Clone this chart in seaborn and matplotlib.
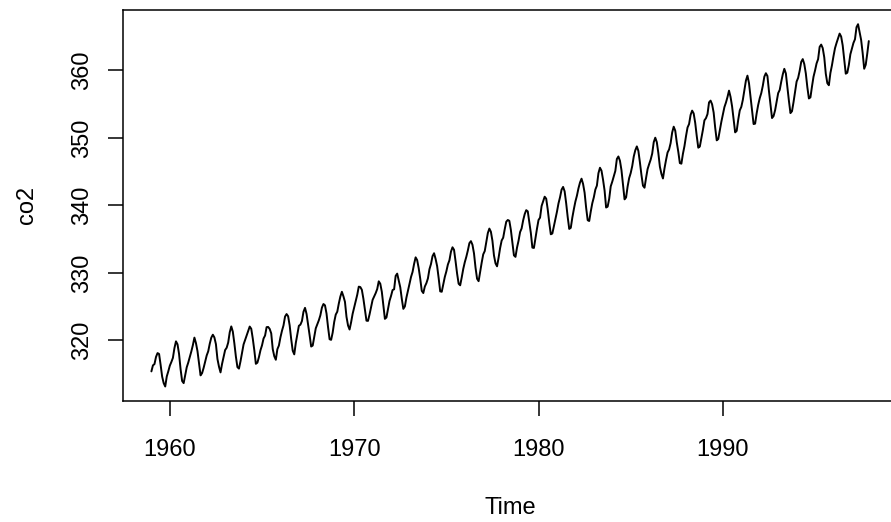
import numpy as np
import pandas as pd
import seaborn as sns
import matplotlib
matplotlib.use("Agg")
import matplotlib.pyplot as plt

# Monthly Mauna Loa CO2 (ppm), Jan 1959 - Dec 1997
start_year = 1959
co2_values = [
    315.42, 316.31, 316.50, 317.56, 318.13, 318.00, 316.39, 314.65, 313.68, 313.18, 314.66, 315.43,
    316.27, 316.81, 317.42, 318.87, 319.87, 319.43, 318.01, 315.74, 314.00, 313.68, 314.84, 316.03,
    316.73, 317.54, 318.38, 319.31, 320.42, 319.61, 318.42, 316.63, 314.83, 315.16, 315.94, 316.85,
    317.78, 318.40, 319.53, 320.42, 320.85, 320.45, 319.45, 317.25, 316.11, 315.27, 316.53, 317.53,
    318.58, 318.92, 319.70, 321.22, 322.08, 321.31, 319.58, 317.61, 316.05, 315.83, 316.91, 318.20,
    319.41, 320.07, 320.74, 321.40, 322.06, 321.73, 320.27, 318.54, 316.54, 316.71, 317.53, 318.55,
    319.27, 320.28, 320.73, 321.97, 322.00, 321.71, 321.05, 318.71, 317.66, 317.14, 318.70, 319.25,
    320.46, 321.43, 322.23, 323.54, 323.91, 323.59, 322.24, 320.20, 318.48, 317.94, 319.63, 320.87,
    322.17, 322.34, 322.88, 324.25, 324.83, 323.93, 322.38, 320.76, 319.10, 319.24, 320.56, 321.80,
    322.40, 322.99, 323.73, 324.86, 325.40, 325.20, 323.98, 321.95, 320.18, 320.09, 321.16, 322.74,
    323.83, 324.26, 325.47, 326.50, 327.21, 326.54, 325.72, 323.50, 322.22, 321.62, 322.69, 323.95,
    324.89, 325.82, 326.77, 327.97, 327.91, 327.50, 326.18, 324.53, 322.93, 322.90, 323.85, 324.96,
    326.01, 326.51, 327.01, 327.62, 328.76, 328.40, 327.20, 325.27, 323.20, 323.40, 324.63, 325.85,
    326.60, 327.47, 327.58, 329.56, 329.90, 328.92, 327.88, 326.16, 324.68, 325.04, 326.34, 327.39,
    328.37, 329.40, 330.14, 331.33, 332.31, 331.90, 330.70, 329.15, 327.35, 327.02, 327.99, 328.48,
    329.18, 330.55, 331.32, 332.48, 332.92, 332.08, 331.01, 329.23, 327.27, 327.21, 328.29, 329.41,
    330.23, 331.25, 331.87, 333.14, 333.80, 333.43, 331.73, 329.90, 328.40, 328.17, 329.32, 330.59,
    331.58, 332.39, 333.33, 334.41, 334.71, 334.17, 332.89, 330.77, 329.14, 328.78, 330.14, 331.52,
    332.75, 333.24, 334.53, 335.90, 336.57, 336.10, 334.76, 332.59, 331.42, 330.98, 332.24, 333.68,
    334.80, 335.22, 336.47, 337.59, 337.84, 337.72, 336.37, 334.51, 332.60, 332.38, 333.75, 334.78,
    336.05, 336.59, 337.79, 338.71, 339.30, 339.12, 337.56, 335.92, 333.75, 333.70, 335.12, 336.56,
    337.84, 338.19, 339.91, 340.60, 341.29, 341.00, 339.39, 337.43, 335.72, 335.84, 336.93, 338.04,
    339.06, 340.30, 341.21, 342.33, 342.74, 342.08, 340.32, 338.26, 336.52, 336.68, 338.19, 339.44,
    340.57, 341.44, 342.53, 343.39, 343.96, 343.18, 341.88, 339.65, 337.81, 337.69, 339.09, 340.32,
    341.20, 342.35, 342.93, 344.77, 345.58, 345.14, 343.81, 342.21, 339.69, 339.82, 340.98, 342.82,
    343.52, 344.33, 345.11, 346.88, 347.25, 346.62, 345.22, 343.11, 340.90, 341.18, 342.80, 344.04,
    344.79, 345.82, 347.25, 348.17, 348.74, 348.07, 346.38, 344.51, 342.92, 342.62, 344.06, 345.38,
    346.11, 346.78, 347.68, 349.37, 350.03, 349.37, 347.76, 345.73, 344.68, 343.99, 345.48, 346.72,
    347.84, 348.29, 349.23, 350.80, 351.66, 351.07, 349.33, 347.92, 346.27, 346.18, 347.64, 348.78,
    350.25, 351.54, 352.05, 353.41, 354.04, 353.62, 352.22, 350.27, 348.55, 348.72, 349.91, 351.18,
    352.60, 352.92, 353.53, 355.26, 355.52, 354.97, 353.75, 351.52, 349.64, 349.83, 351.14, 352.37,
    353.50, 354.55, 355.23, 356.04, 357.00, 356.07, 354.67, 352.76, 350.82, 351.04, 352.69, 354.07,
    354.59, 355.63, 357.03, 358.48, 359.22, 358.12, 356.06, 353.92, 352.05, 352.11, 353.64, 354.89,
    355.88, 356.63, 357.72, 359.07, 359.58, 359.17, 356.94, 354.92, 352.94, 353.23, 354.09, 355.33,
    356.63, 357.10, 358.32, 359.41, 360.23, 359.55, 357.53, 355.48, 353.67, 353.95, 355.30, 356.78,
    358.34, 358.89, 359.95, 361.25, 361.67, 360.94, 359.55, 357.49, 355.84, 356.00, 357.59, 359.05,
    359.98, 361.03, 361.66, 363.48, 363.82, 363.30, 361.94, 359.50, 358.11, 357.80, 359.61, 360.74,
    362.09, 363.29, 364.06, 364.76, 365.45, 365.01, 363.70, 361.54, 359.51, 359.65, 360.80, 362.38,
    363.23, 364.06, 364.61, 366.40, 366.84, 365.68, 364.52, 362.57, 360.24, 360.83, 362.49, 364.34,
]
x_ticks = [1960, 1970, 1980, 1990]
y_ticks = [320, 330, 340, 350, 360]

df = pd.DataFrame({"co2": co2_values})
df["Time"] = start_year + np.arange(len(df)) / 12.0

sns.set_theme(style="white")
plt.rcParams["font.family"] = ["Liberation Sans", "DejaVu Sans"]

fig = plt.figure(figsize=(8.91, 5.22), dpi=100)
# R-style plot region; right edge runs past the canvas like the original crop
ax = fig.add_axes([122.7 / 891, (522 - 401) / 522, (897.5 - 122.7) / 891, (401 - 9.7) / 522])

sns.lineplot(data=df, x="Time", y="co2", color="black", linewidth=1.4, ax=ax)

# R pads the data range by 4% on each side
tmin, tmax = df["Time"].min(), df["Time"].max()
vmin, vmax = df["co2"].min(), df["co2"].max()
ax.set_xlim(tmin - 0.04 * (tmax - tmin), tmax + 0.04 * (tmax - tmin))
ax.set_ylim(vmin - 0.04 * (vmax - vmin), vmax + 0.04 * (vmax - vmin))

ax.set_xticks(x_ticks)
ax.set_yticks(y_ticks)
ax.set_yticklabels([str(v) for v in y_ticks], rotation=90, va="center")
ax.tick_params(axis="both", direction="out", length=11, width=1.1, color="black",
               labelsize=17, labelcolor="black")
ax.tick_params(axis="x", pad=16)
ax.tick_params(axis="y", pad=10)
ax.tick_params(left=True, bottom=True)
for s in ax.spines.values():
    s.set_color("black")
    s.set_linewidth(1.1)
    s.set_visible(True)

ax.set_xlabel("Time", fontsize=17, labelpad=26, color="black")
ax.set_ylabel("co2", fontsize=17, labelpad=24, color="black")

fig.savefig("out.png", dpi=100)
